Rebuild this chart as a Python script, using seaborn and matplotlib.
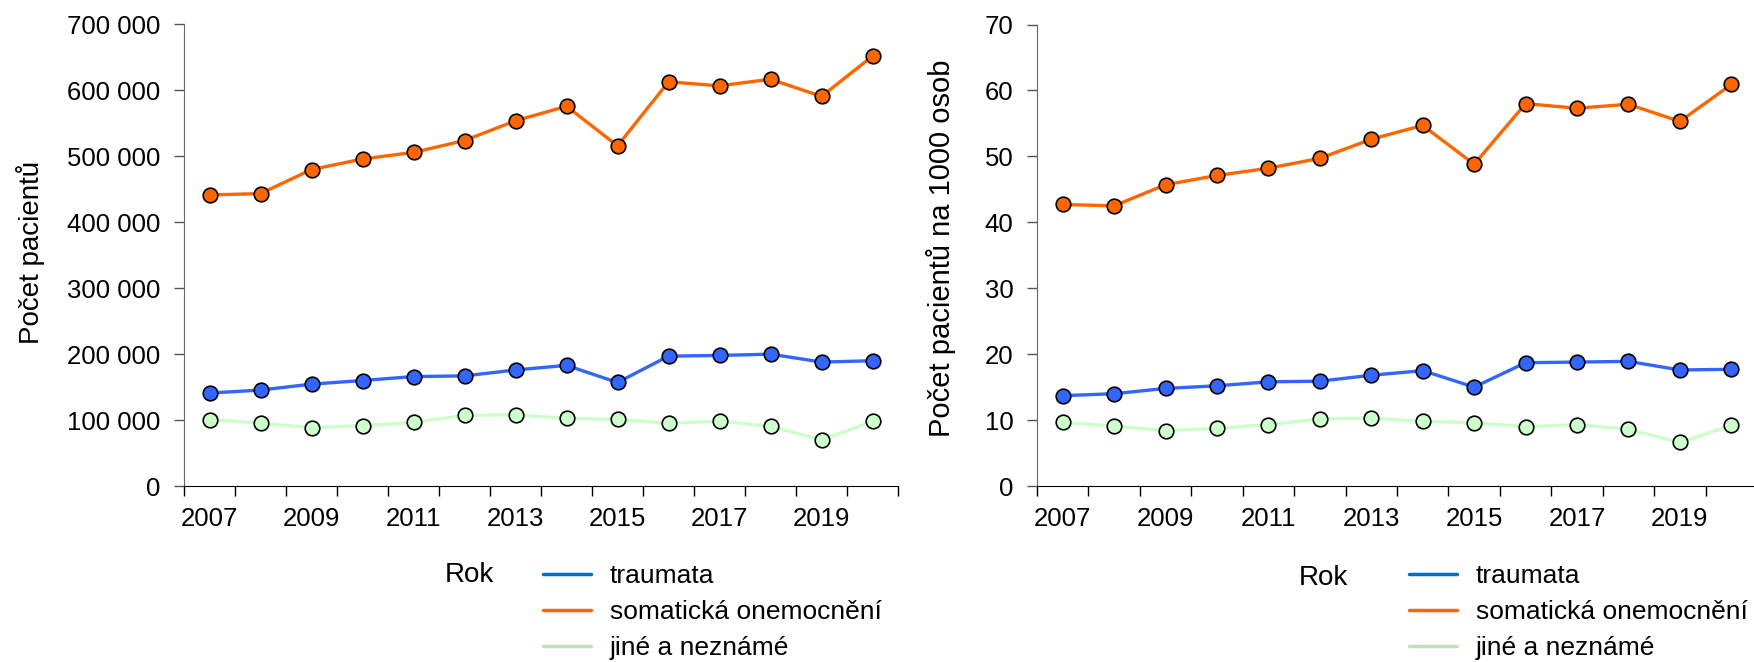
import numpy as np
import pandas as pd
import seaborn as sns
import matplotlib.pyplot as plt
from matplotlib.lines import Line2D
from matplotlib.ticker import FuncFormatter, FixedLocator

years = list(range(2007, 2021))
series = ["traumata", "somatická onemocnění", "jiné a neznámé"]

# absolutní počty pacientů
traumata_abs = [141000, 145500, 154500, 160000, 166000, 167000, 176000, 183000, 157000, 197000, 198000, 200000, 188000, 190000]
somaticka_abs = [441500, 443500, 480000, 496000, 506000, 524000, 554000, 576000, 516000, 613000, 607000, 617000, 591000, 652000]
jine_abs = [100500, 95500, 88500, 91500, 96500, 107000, 108000, 102500, 101000, 95000, 98500, 90500, 70000, 98000]

# na 1000 osob
traumata_rel = [13.7, 14.0, 14.8, 15.2, 15.8, 15.9, 16.8, 17.5, 15.0, 18.7, 18.8, 18.9, 17.6, 17.7]
somaticka_rel = [42.7, 42.5, 45.7, 47.1, 48.2, 49.7, 52.6, 54.7, 48.8, 58.0, 57.3, 57.9, 55.3, 60.9]
jine_rel = [9.65, 9.1, 8.4, 8.75, 9.3, 10.2, 10.3, 9.8, 9.6, 9.0, 9.3, 8.6, 6.6, 9.2]

line_colors = {"traumata": "#3366ff", "somatická onemocnění": "#ff6600", "jiné a neznámé": "#ccffcc"}
legend_colors = ["#0070c0", "#ff6600", "#c5e0b4"]


def long_df(a, b, c):
    return pd.DataFrame({
        "rok": years * 3,
        "hodnota": a + b + c,
        "serie": [s for s in series for _ in years],
    })


df_abs = long_df(traumata_abs, somaticka_abs, jine_abs)
df_rel = long_df(traumata_rel, somaticka_rel, jine_rel)

sns.set_style("ticks")
plt.rcParams["font.family"] = ["Liberation Sans", "DejaVu Sans"]
plt.rcParams["text.color"] = "black"
plt.rcParams["axes.labelcolor"] = "black"
plt.rcParams["xtick.labelcolor"] = "black"
plt.rcParams["ytick.labelcolor"] = "black"

W, H = 1754, 662
fig = plt.figure(figsize=(W / 100, H / 100), dpi=100)
ax1 = fig.add_axes([184 / W, (H - 486) / H, 714 / W, 461.5 / H])
ax2 = fig.add_axes([1037 / W, (H - 486) / H, 720 / W, 461.5 / H])


def style_axis(ax, ymax, step, fmt):
    ax.set_xlim(years[0] - 0.5, years[-1] + 0.5)
    ax.set_ylim(0, ymax)
    ax.set_yticks(np.arange(0, ymax + 1, step))
    ax.yaxis.set_major_formatter(FuncFormatter(fmt))
    bounds = [y - 0.5 for y in years] + [years[-1] + 0.5]
    ax.xaxis.set_major_locator(FixedLocator(bounds))
    ax.xaxis.set_major_formatter(FuncFormatter(lambda v, p: ""))
    ax.xaxis.set_minor_locator(FixedLocator(years[::2]))
    ax.xaxis.set_minor_formatter(FuncFormatter(lambda v, p: str(int(round(v)))))
    ax.tick_params(axis="x", which="major", length=7, width=1, color="black")
    ax.tick_params(axis="x", which="minor", length=0, pad=15, labelsize=18.5, labelcolor="black")
    ax.tick_params(axis="y", length=7, width=1, color="#555555", pad=10, labelsize=18.5, labelcolor="black")
    sns.despine(ax=ax)
    ax.spines["left"].set_color("#666666")
    ax.spines["bottom"].set_color("black")
    ax.set_xlabel("")
    ax.set_ylabel("")


for ax, data in [(ax1, df_abs), (ax2, df_rel)]:
    sns.lineplot(data=data, x="rok", y="hodnota", hue="serie", hue_order=series,
                 palette=line_colors, marker="o", markersize=10.5,
                 markeredgecolor="black", markeredgewidth=1.2,
                 linewidth=2.4, legend=False, ax=ax, zorder=3)
    for ln in ax.lines:
        ln.set_clip_on(False)

style_axis(ax1, 700000, 100000, lambda v, p: f"{int(v):,}".replace(",", " "))
style_axis(ax2, 70, 10, lambda v, p: f"{int(v)}")

fig.text(31 / W, 1 - 252 / H, "Počet pacientů", rotation=90, ha="center", va="center", fontsize=20)
fig.text(941 / W, 1 - 248 / H, "Počet pacientů na 1000 osob", rotation=90, ha="center", va="center", fontsize=21)

fig.text(469 / W, 1 - 575 / H, "Rok", ha="center", va="center", fontsize=20)
fig.text(1323 / W, 1 - 578 / H, "Rok", ha="center", va="center", fontsize=20)

handles = [Line2D([0], [0], color=c, lw=2.5) for c in legend_colors]
for x0 in (543, 1409):
    fig.legend(handles, series, loc="upper left", bbox_to_anchor=(x0 / W, 1 - 564 / H),
               frameon=False, fontsize=19, handlelength=1.82, handletextpad=0.72,
               labelspacing=0.45, borderpad=0, borderaxespad=0)

fig.savefig("out.png", dpi=100)
